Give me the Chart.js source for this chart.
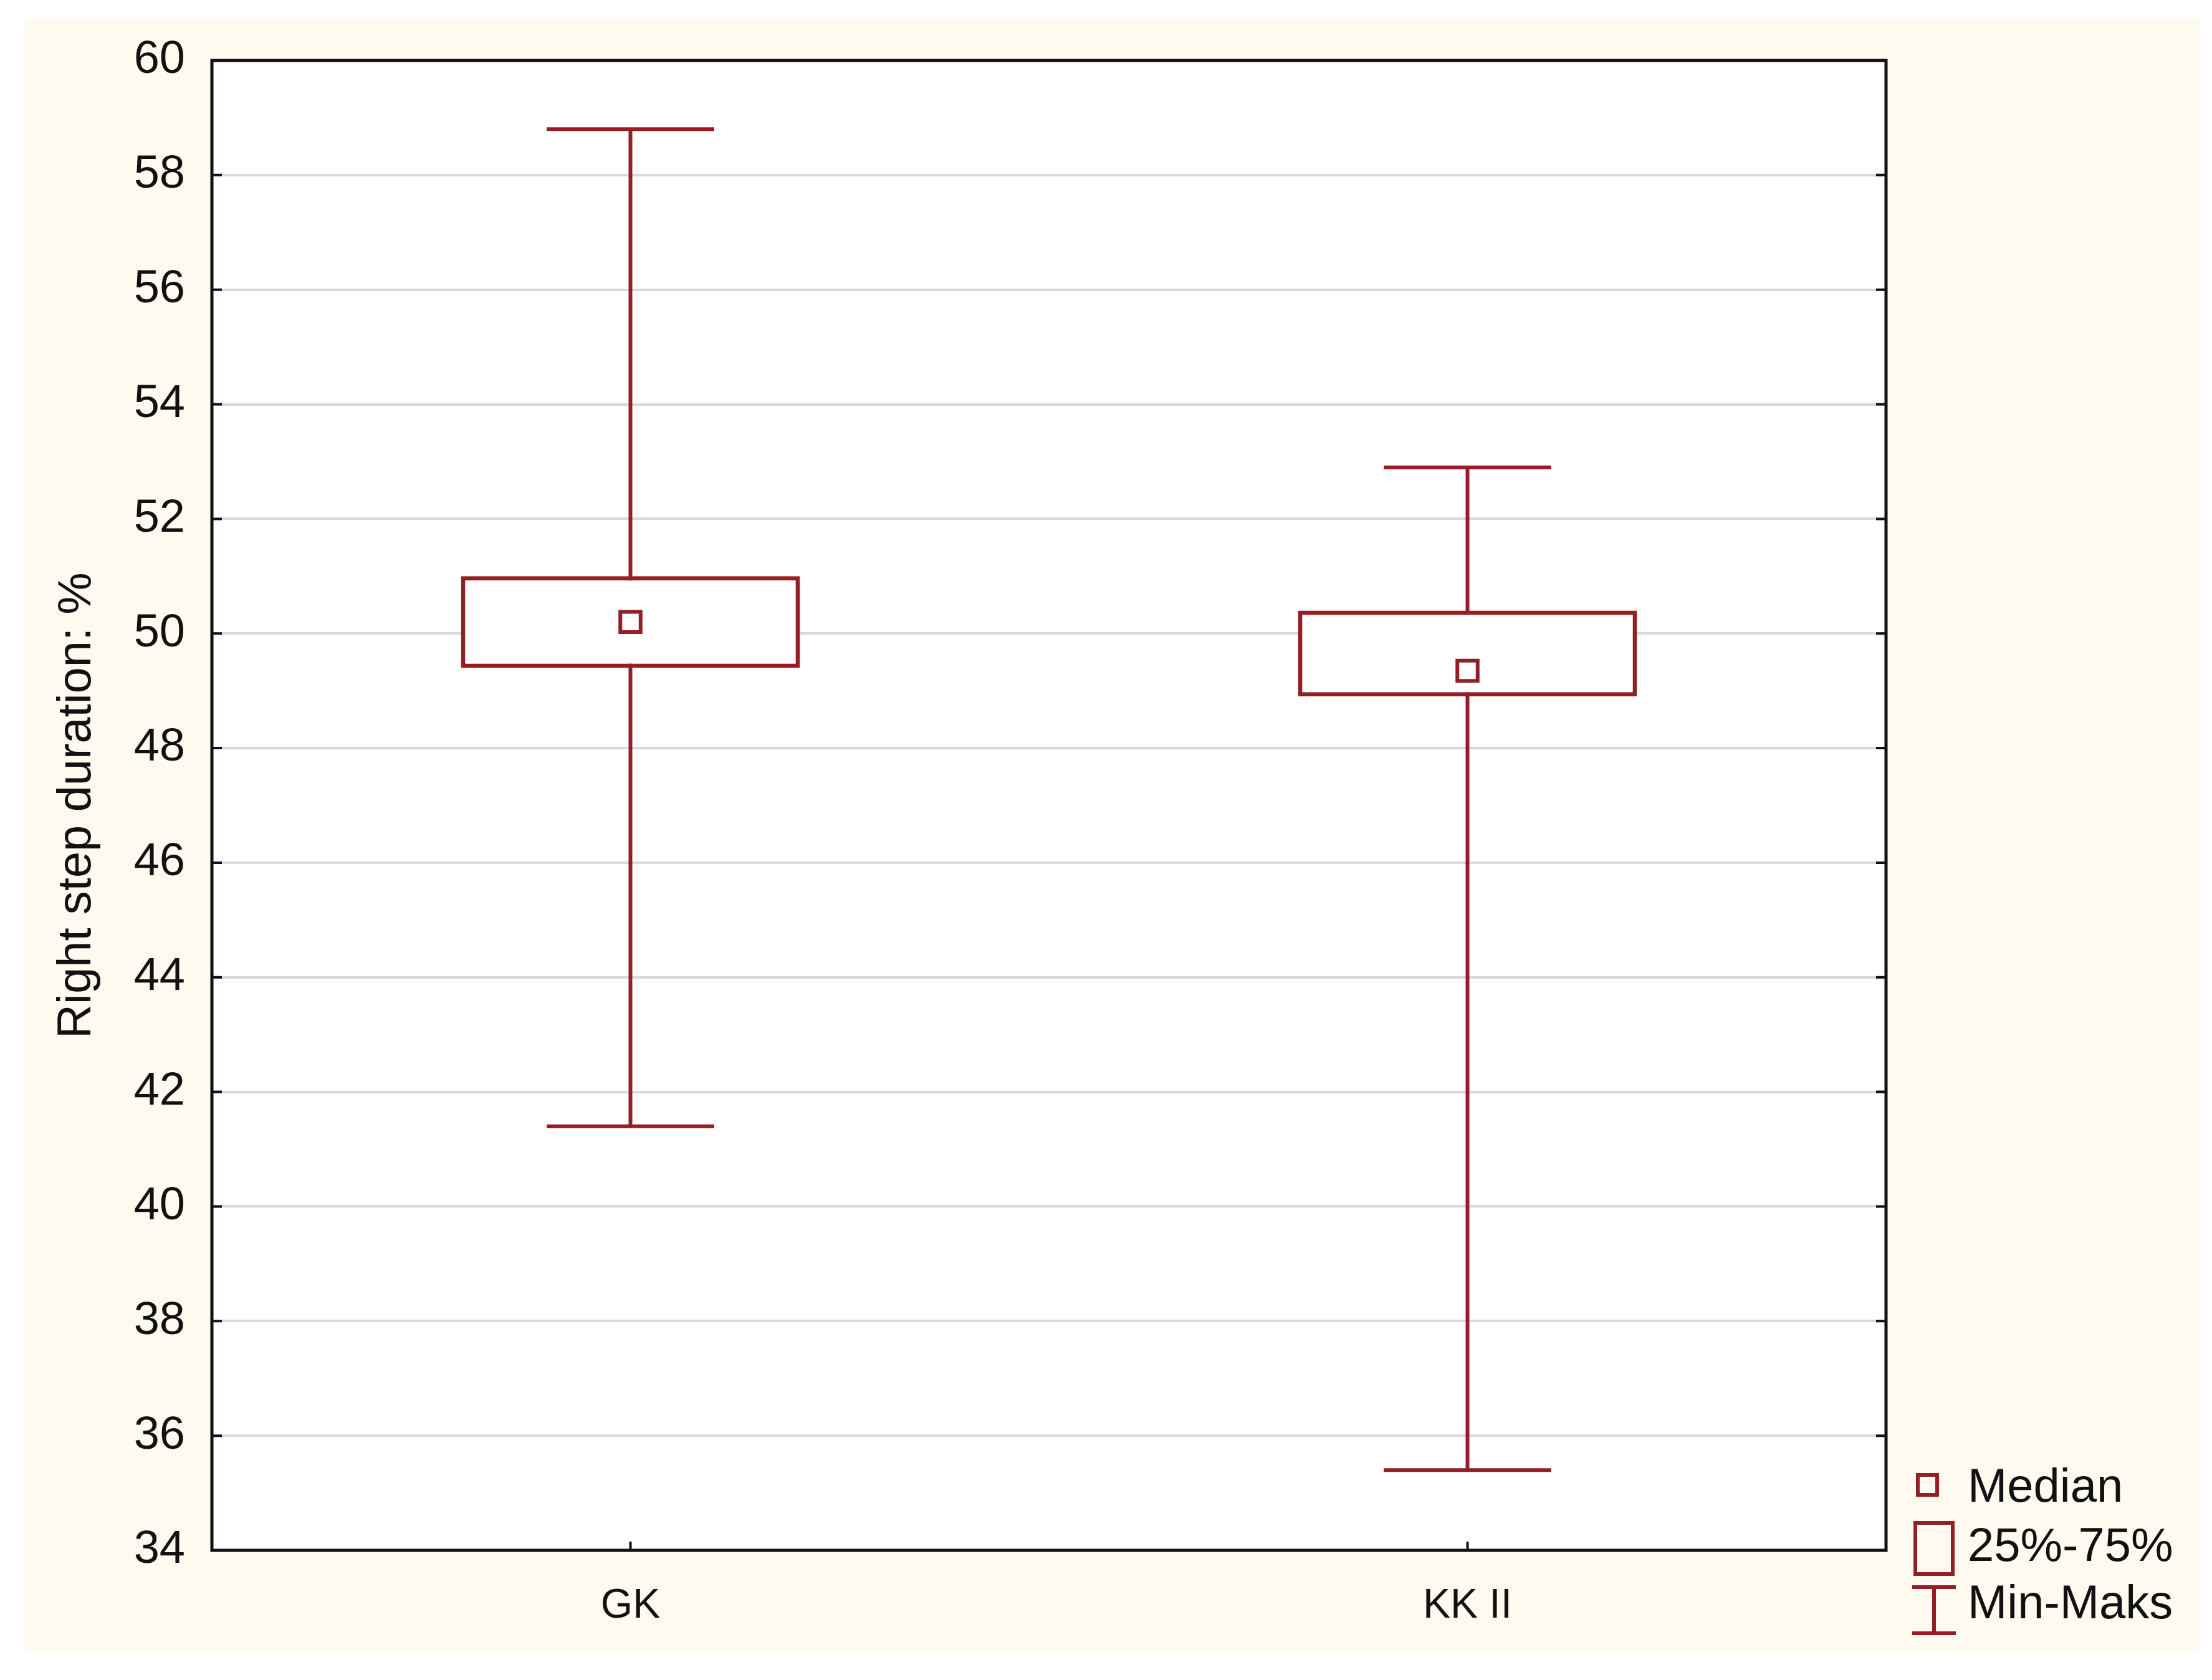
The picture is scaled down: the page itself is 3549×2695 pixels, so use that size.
<!DOCTYPE html>
<html><head><meta charset="utf-8">
<script src="https://cdn.jsdelivr.net/npm/chart.js@4.4.0/dist/chart.umd.min.js"></script>
<style>html,body{margin:0;padding:0;background:#fff;overflow:hidden}#wrap{width:3549px;height:2695px;position:relative}</style>
</head><body><div id="wrap"><canvas id="c" width="3549" height="2695"></canvas></div>
<script>
const categories = ['GK', 'KK II'];
const minValues = [41.4, 35.4];
const q1Values = [49.4, 48.9];
const medianValues = [50.2, 49.35];
const q3Values = [51.0, 50.4];
const maxValues = [58.8, 52.9];
const yTicks = [34, 36, 38, 40, 42, 44, 46, 48, 50, 52, 54, 56, 58, 60];
const legendLabels = ['Median', '25%-75%', 'Min-Maks'];
const yTitle = 'Right step duration: %';

const RED = '#931f24';
const FONT = '"Liberation Sans", Arial, sans-serif';

const bgPlugin = {
  id: 'bg',
  beforeDraw(chart) {
    const ctx = chart.ctx, a = chart.chartArea;
    ctx.save();
    ctx.fillStyle = '#ffffff';
    ctx.fillRect(0, 0, chart.width, chart.height);
    ctx.fillStyle = '#fffaf0';
    ctx.fillRect(40, 30, 3490, 2620);
    ctx.fillStyle = '#ffffff';
    ctx.fillRect(a.left, a.top, a.right - a.left, a.bottom - a.top);
    ctx.restore();
  }
};

const whiskerPlugin = {
  id: 'whiskers',
  beforeDatasetsDraw(chart) {
    const ctx = chart.ctx, xs = chart.scales.x, ys = chart.scales.y;
    const catW = (xs.right - xs.left) / categories.length;
    ctx.save();
    ctx.strokeStyle = RED;
    ctx.lineWidth = 6;
    ctx.lineCap = 'butt';
    categories.forEach((c, i) => {
      const x = xs.getPixelForValue(i);
      const yMin = ys.getPixelForValue(minValues[i]);
      const yMax = ys.getPixelForValue(maxValues[i]);
      const half = catW * 0.1;
      ctx.beginPath();
      ctx.moveTo(x, yMax); ctx.lineTo(x, yMin);
      ctx.moveTo(x - half, yMax); ctx.lineTo(x + half, yMax);
      ctx.moveTo(x - half, yMin); ctx.lineTo(x + half, yMin);
      ctx.stroke();
    });
    ctx.restore();
  },
  afterDraw(chart) {
    const ctx = chart.ctx, a = chart.chartArea, xs = chart.scales.x, ys = chart.scales.y;
    ctx.save();
    ctx.strokeStyle = '#111';
    ctx.lineWidth = 5;
    ctx.strokeRect(a.left, a.top, a.right - a.left, a.bottom - a.top);
    ctx.lineWidth = 4;
    ctx.beginPath();
    yTicks.forEach(v => {
      const y = ys.getPixelForValue(v);
      ctx.moveTo(a.left, y); ctx.lineTo(a.left + 16, y);
      ctx.moveTo(a.right, y); ctx.lineTo(a.right - 16, y);
    });
    categories.forEach((c, i) => {
      const x = xs.getPixelForValue(i);
      ctx.moveTo(x, a.bottom); ctx.lineTo(x, a.bottom - 14);
    });
    ctx.stroke();

    // legend
    ctx.strokeStyle = RED;
    ctx.lineWidth = 6;
    ctx.strokeRect(3077, 2366, 31, 32);
    ctx.strokeRect(3073, 2443, 60, 82);
    ctx.beginPath();
    ctx.moveTo(3068, 2546); ctx.lineTo(3138, 2546);
    ctx.moveTo(3103, 2546); ctx.lineTo(3103, 2620);
    ctx.moveTo(3068, 2620); ctx.lineTo(3138, 2620);
    ctx.stroke();
    ctx.fillStyle = '#111';
    ctx.font = '76px ' + FONT;
    ctx.textAlign = 'left';
    ctx.textBaseline = 'middle';
    ctx.fillText(legendLabels[0], 3157, 2388);
    ctx.fillText(legendLabels[1], 3157, 2483);
    ctx.fillText(legendLabels[2], 3157, 2575);
    ctx.restore();
  }
};

new Chart(document.getElementById('c'), {
  type: 'bar',
  data: {
    labels: categories,
    datasets: [
      {
        type: 'line',
        data: medianValues,
        showLine: false,
        pointStyle: 'rect',
        pointRadius: 23,
        pointBackgroundColor: '#ffffff',
        pointBorderColor: RED,
        pointBorderWidth: 6,
        order: 0
      },
      {
        type: 'bar',
        data: categories.map((c, i) => [q1Values[i], q3Values[i]]),
        backgroundColor: '#ffffff',
        borderColor: RED,
        borderWidth: 7,
        borderSkipped: false,
        barPercentage: 0.405,
        categoryPercentage: 1,
        order: 1
      }
    ]
  },
  options: {
    responsive: false,
    animation: false,
    devicePixelRatio: 1,
    layout: { padding: { left: 0, top: 97, right: 523, bottom: 0 } },
    plugins: { legend: { display: false }, tooltip: { enabled: false } },
    scales: {
      x: {
        offset: true,
        grid: { display: false, drawTicks: false },
        border: { display: false },
        ticks: { color: '#111', font: { size: 66, family: FONT }, padding: 50 },
        afterFit(s) { s.height = 208; }
      },
      y: {
        min: 34, max: 60,
        afterBuildTicks(s) { s.ticks = yTicks.map(v => ({ value: v })); },
        grid: { color: '#d9d9d9', lineWidth: 4, drawTicks: false, tickLength: 0 },
        border: { display: false },
        ticks: { color: '#111', font: { size: 74, family: FONT }, padding: 43 },
        title: { display: true, text: yTitle, color: '#111', font: { size: 76, family: FONT }, padding: { top: 78, bottom: 0 } },
        afterFit(s) { s.width = 340; }
      }
    }
  },
  plugins: [bgPlugin, whiskerPlugin]
});
</script></body></html>
